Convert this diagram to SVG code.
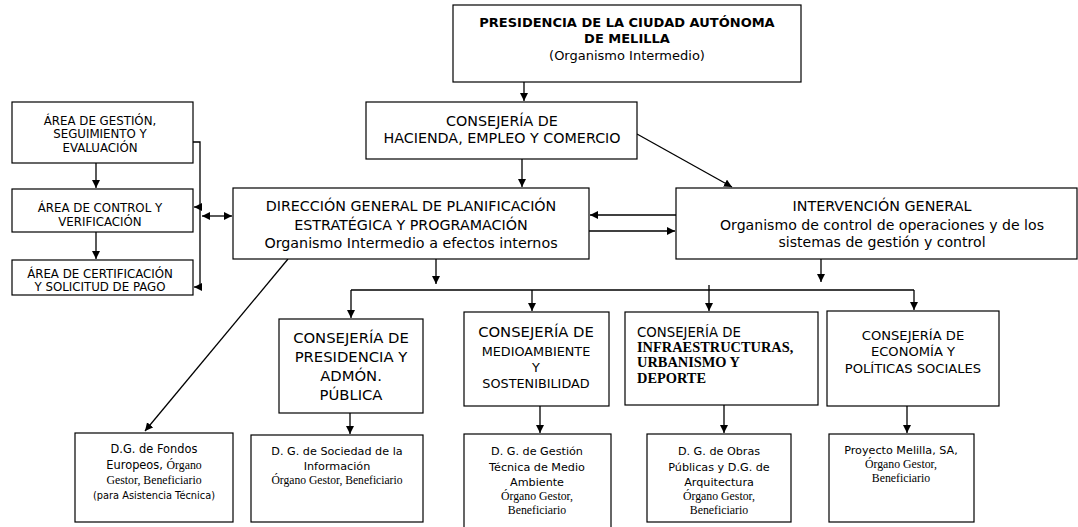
<svg xmlns="http://www.w3.org/2000/svg" width="1078" height="527" viewBox="0 0 1078 527">
<style>
.b{fill:#fff;stroke:#000;stroke-width:1.2}
.t{font-family:'DejaVu Sans',Verdana,sans-serif;fill:#000;text-anchor:middle}
.s{font-family:'Liberation Serif','Times New Roman',serif;fill:#000}
.l{text-anchor:start}
.c{stroke:#000;stroke-width:1.3;fill:none}
</style>
<defs>
<marker id="a" markerUnits="userSpaceOnUse" markerWidth="9" markerHeight="9" refX="8" refY="4" orient="auto-start-reverse"><path d="M0,0 L8,4 L0,8 z" fill="#000"/></marker>
</defs>
<rect width="1078" height="527" fill="#fff"/>
<g id="connectors">
<line class="c" x1="524" y1="82" x2="524" y2="101" marker-end="url(#a)"/>
<line class="c" x1="522" y1="159" x2="522" y2="187" marker-end="url(#a)"/>
<line class="c" x1="637" y1="134" x2="732" y2="187" marker-end="url(#a)"/>
<line class="c" x1="676" y1="215" x2="590" y2="215" marker-end="url(#a)"/>
<line class="c" x1="589" y1="231" x2="675" y2="231" marker-end="url(#a)"/>
<line class="c" x1="436" y1="259" x2="436" y2="284" marker-end="url(#a)"/>
<line class="c" x1="821" y1="259" x2="821" y2="282" marker-end="url(#a)"/>
<line class="c" x1="351" y1="290" x2="914" y2="290"/>
<line class="c" x1="351" y1="290" x2="351" y2="318" marker-end="url(#a)"/>
<line class="c" x1="532" y1="290" x2="532" y2="311" marker-end="url(#a)"/>
<line class="c" x1="709" y1="285" x2="709" y2="311" marker-end="url(#a)"/>
<line class="c" x1="914" y1="290" x2="914" y2="310" marker-end="url(#a)"/>
<line class="c" x1="288" y1="259" x2="145" y2="431" marker-end="url(#a)"/>
<line class="c" x1="350" y1="413" x2="350" y2="434" marker-end="url(#a)"/>
<line class="c" x1="540" y1="406" x2="540" y2="433" marker-end="url(#a)"/>
<line class="c" x1="724" y1="405" x2="724" y2="433" marker-end="url(#a)"/>
<line class="c" x1="907" y1="406" x2="907" y2="433" marker-end="url(#a)"/>
<line class="c" x1="96" y1="163" x2="96" y2="188" marker-end="url(#a)"/>
<line class="c" x1="96" y1="232" x2="96" y2="259" marker-end="url(#a)"/>
<polyline class="c" points="193,142 200,142 200,287"/>
<line class="c" x1="200" y1="207" x2="194" y2="207" marker-end="url(#a)"/>
<line class="c" x1="200" y1="287" x2="194" y2="287" marker-end="url(#a)"/>
<line class="c" x1="202" y1="216" x2="232" y2="216" marker-start="url(#a)" marker-end="url(#a)"/>
</g>
<g id="presidencia">
<rect class="b" x="453" y="5" width="348" height="77"/>
<text class="t" x="627" y="27" font-size="13" font-weight="bold">PRESIDENCIA DE LA CIUDAD AUTÓNOMA</text>
<text class="t" x="627" y="43" font-size="13" font-weight="bold">DE MELILLA</text>
<text class="t" x="627" y="60" font-size="13">(Organismo Intermedio)</text>
</g>
<g id="hacienda">
<rect class="b" x="366" y="102" width="271" height="57"/>
<text class="t" x="502" y="126" font-size="14.3">CONSEJERÍA DE</text>
<text class="t" x="502" y="143" font-size="14.3">HACIENDA, EMPLEO Y COMERCIO</text>
</g>
<g id="direccion">
<rect class="b" x="233" y="188" width="356" height="71"/>
<text class="t" x="411" y="211" font-size="14.3">DIRECCIÓN GENERAL DE PLANIFICACIÓN</text>
<text class="t" x="411" y="230" font-size="14.3">ESTRATÉGICA Y PROGRAMACIÓN</text>
<text class="t" x="411" y="248" font-size="14.3">Organismo Intermedio a efectos internos</text>
</g>
<g id="intervencion">
<rect class="b" x="676" y="188" width="401" height="71"/>
<text class="t" x="882" y="211" font-size="14.3">INTERVENCIÓN GENERAL</text>
<text class="t" x="882" y="230" font-size="14.1">Organismo de control de operaciones y de los</text>
<text class="t" x="882" y="247" font-size="14.1">sistemas de gestión y control</text>
</g>
<g id="area-gestion">
<rect class="b" x="12" y="102" width="181" height="61"/>
<text class="t" x="100" y="125" font-size="11.8">ÁREA DE GESTIÓN,</text>
<text class="t" x="100" y="138" font-size="11.8">SEGUIMIENTO Y</text>
<text class="t" x="100" y="152" font-size="11.8">EVALUACIÓN</text>
</g>
<g id="area-control">
<rect class="b" x="12" y="189" width="181" height="43"/>
<text class="t" x="100" y="212" font-size="11.8">ÁREA DE CONTROL Y</text>
<text class="t" x="100" y="226" font-size="11.8">VERIFICACIÓN</text>
</g>
<g id="area-certificacion">
<rect class="b" x="12" y="260" width="181" height="35"/>
<text class="t" x="100" y="278" font-size="11.8">ÁREA DE CERTIFICACIÓN</text>
<text class="t" x="100" y="291" font-size="11.8">Y SOLICITUD DE PAGO</text>
</g>
<g id="cons-presidencia">
<rect class="b" x="279" y="319" width="144" height="94"/>
<text class="t" x="351" y="343" font-size="14.8">CONSEJERÍA DE</text>
<text class="t" x="351" y="362" font-size="14.8">PRESIDENCIA Y</text>
<text class="t" x="351" y="381" font-size="14.8">ADMÓN.</text>
<text class="t" x="351" y="400" font-size="14.8">PÚBLICA</text>
</g>
<g id="cons-medioambiente">
<rect class="b" x="464" y="312" width="145" height="94"/>
<text class="t" x="536" y="337" font-size="14.8">CONSEJERÍA DE</text>
<text class="t" x="536" y="356" font-size="12.8">MEDIOAMBIENTE</text>
<text class="t" x="536" y="372" font-size="12.8">Y</text>
<text class="t" x="536" y="388" font-size="12.8">SOSTENIBILIDAD</text>
</g>
<g id="cons-infraestructuras">
<rect class="b" x="625" y="312" width="193" height="93"/>
<text class="t l" x="637" y="337" font-size="13.3">CONSEJERÍA DE</text>
<text class="s" x="637" y="352" font-size="14.4" font-weight="bold">INFRAESTRUCTURAS,</text>
<text class="s" x="637" y="367" font-size="14.4" font-weight="bold">URBANISMO Y</text>
<text class="s" x="637" y="383" font-size="14.4" font-weight="bold">DEPORTE</text>
</g>
<g id="cons-economia">
<rect class="b" x="827" y="311" width="172" height="95"/>
<text class="t" x="913" y="340" font-size="13.1">CONSEJERÍA DE</text>
<text class="t" x="913" y="356" font-size="13.1">ECONOMÍA Y</text>
<text class="t" x="913" y="373" font-size="13.1">POLÍTICAS SOCIALES</text>
</g>
<g id="dg-fondos">
<rect class="b" x="75" y="433" width="158" height="89"/>
<text class="t" x="154" y="453" font-size="11.4">D.G. de Fondos</text>
<text class="t" x="154" y="469" font-size="11.4">Europeos, <tspan class="s" font-size="11.8">Órgano</tspan></text>
<text class="s" x="154" y="484" font-size="11.8" text-anchor="middle">Gestor, Beneficiario</text>
<text class="t" x="154" y="499" font-size="9.8">(para Asistencia Técnica)</text>
</g>
<g id="dg-sociedad">
<rect class="b" x="251" y="435" width="172" height="87"/>
<text class="t" x="337" y="455" font-size="11.2">D. G. de Sociedad de la</text>
<text class="t" x="337" y="470" font-size="11.2">Información</text>
<text class="s" x="337" y="484" font-size="11.6" text-anchor="middle">Órgano Gestor, Beneficiario</text>
</g>
<g id="dg-medio">
<rect class="b" x="464" y="434" width="147" height="100"/>
<text class="t" x="537" y="455" font-size="11.2">D. G. de Gestión</text>
<text class="t" x="537" y="471" font-size="11.2">Técnica de Medio</text>
<text class="t" x="537" y="486" font-size="11.2">Ambiente</text>
<text class="s" x="537" y="500" font-size="11.8" text-anchor="middle">Órgano Gestor,</text>
<text class="s" x="537" y="514" font-size="11.8" text-anchor="middle">Beneficiario</text>
</g>
<g id="dg-obras">
<rect class="b" x="647" y="434" width="144" height="88"/>
<text class="t" x="719" y="455" font-size="11.2">D. G. de Obras</text>
<text class="t" x="719" y="471" font-size="11.2">Públicas y D.G. de</text>
<text class="t" x="719" y="486" font-size="11.2">Arquitectura</text>
<text class="s" x="719" y="500" font-size="11.8" text-anchor="middle">Órgano Gestor,</text>
<text class="s" x="719" y="514" font-size="11.8" text-anchor="middle">Beneficiario</text>
</g>
<g id="proyecto-melilla">
<rect class="b" x="829" y="434" width="145" height="88"/>
<text class="t" x="901" y="454" font-size="11.2">Proyecto Melilla, SA,</text>
<text class="s" x="901" y="468" font-size="11.8" text-anchor="middle">Órgano Gestor,</text>
<text class="s" x="901" y="482" font-size="11.8" text-anchor="middle">Beneficiario</text>
</g>
</svg>
